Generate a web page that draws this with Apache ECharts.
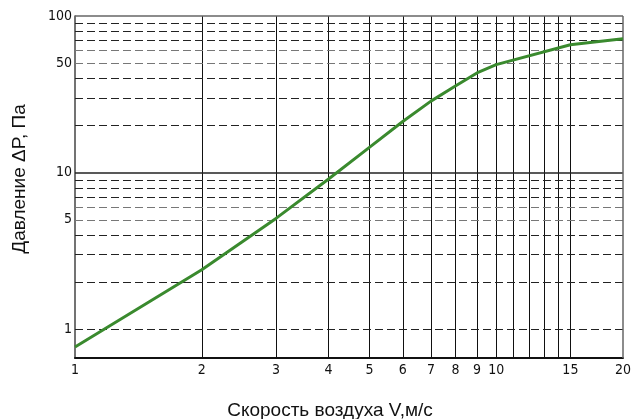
<!DOCTYPE html>
<html>
<head>
<meta charset="utf-8">
<script src="https://cdn.jsdelivr.net/npm/echarts@6/dist/echarts.min.js"></script>
<style>
    html, body { margin: 0; padding: 0; background: #fff; }
    #chart { width: 633px; height: 419px; }
</style>
</head>
<body>
<div id="chart"></div>
<script>
    // скорость воздуха, м/с
    var speedV = [1, 2, 3, 4, 5, 6, 7, 8, 9, 10, 15, 20];
    // давление, Па
    var pressure = [0.77, 2.4, 5.1, 9.1, 14.5, 21.2, 28.6, 35.7, 43.3, 48.9, 65.5, 71.5];

    // сетка
    var xGridLines = [2, 3, 4, 5, 6, 7, 8, 9, 10, 11, 12, 13, 14, 15];
    var xTickLabels = [1, 2, 3, 4, 5, 6, 7, 8, 9, 10, 15, 20];
    var yDashedLines = [90, 80, 70, 60, 50, 40, 30, 20, 9, 8, 7, 6, 5, 4, 3, 2, 1];
    var yGreyLines = [60, 50, 6, 5];
    var ySolidLines = [10, 100];
    var yTickLabels = [1, 5, 10, 50, 100];

    // маленький помощник вместо jQuery
    function extend(a, b){ for(var key in b){ a[key] = b[key]; } return a; }

    var labelFont = {
        color: '#111',
        fontSize: 14,
        fontFamily: '"DejaVu Sans Condensed", "Liberation Sans Narrow", sans-serif'
    };

    //вертикальные линии + подписи оси X
    function buildXMarks(){
        var arr = [];
        for(var i=0; i<xGridLines.length; i++){
            arr.push({
                xAxis: xGridLines[i],
                lineStyle: {color: '#111', width: 1, type: 'solid'},
                label: {show: false}
            });
        }
        for(var j=0; j<xTickLabels.length; j++){
            arr.push({
                xAxis: xTickLabels[j],
                lineStyle: {color: 'transparent', width: 0},
                label: extend({
                    show: true, position: 'start', distance: 5,
                    formatter: String(xTickLabels[j])
                }, labelFont)
            });
        }
        return arr;
    }

    //горизонтальные линии + подписи оси Y
    function buildYMarks(){
        var arr = [];
        for(var i=0; i<yDashedLines.length; i++){
            var v = yDashedLines[i];
            var grey = yGreyLines.indexOf(v) > -1;
            arr.push({
                yAxis: v,
                lineStyle: {color: grey ? '#777' : '#222', width: 1, type: [8, 4]},
                label: {show: false}
            });
        }
        for(var k=0; k<ySolidLines.length; k++){
            arr.push({
                yAxis: ySolidLines[k],
                lineStyle: {color: ySolidLines[k] == 100 ? '#666' : '#222', width: 1.5, type: 'solid'},
                label: {show: false}
            });
        }
        for(var j=0; j<yTickLabels.length; j++){
            arr.push({
                yAxis: yTickLabels[j],
                lineStyle: {color: 'transparent', width: 0},
                label: extend({
                    show: true, position: 'start', distance: 3,
                    formatter: String(yTickLabels[j])
                }, labelFont)
            });
        }
        return arr;
    }

    var chart = echarts.init(document.getElementById('chart'));
    var option = {
        animation: false,
        backgroundColor: '#fff',
        grid: { left: 75, right: 10, top: 16, bottom: 61, outerBoundsMode: 'none', containLabel: false },
        xAxis: {
            type: 'log',
            logBase: 10,
            min: 1,
            max: 20,
            name: 'Скорость воздуха V,м/с',
            nameLocation: 'middle',
            nameGap: 43,
            nameTextStyle: { color: '#111', fontSize: 19, fontFamily: '"Liberation Sans", Arial, sans-serif', padding: [0, 38, 0, 0] },
            axisLine: { show: true, lineStyle: { color: '#111', width: 2 } },
            axisTick: { show: false },
            axisLabel: { show: false },
            splitLine: { show: false }
        },
        yAxis: {
            type: 'log',
            logBase: 10,
            min: 0.655,
            max: 100,
            name: 'Давление ΔP, Па',
            nameLocation: 'middle',
            nameGap: 46,
            nameTextStyle: { color: '#111', fontSize: 19, fontFamily: '"Liberation Sans", Arial, sans-serif', padding: [0, 0, 0, 16] },
            axisLine: { show: true, lineStyle: { color: '#444', width: 1.5 } },
            axisTick: { show: false },
            axisLabel: { show: false },
            splitLine: { show: false }
        },
        series: [{
            name: 'gridX',
            type: 'line',
            data: [],
            z: 1,
            silent: true,
            markLine: { silent: true, symbol: ['none', 'none'], animation: false, data: buildXMarks() }
        },{
            name: 'gridY',
            type: 'line',
            data: [],
            z: 1,
            silent: true,
            markLine: { silent: true, symbol: ['none', 'none'], animation: false, data: buildYMarks() }
        },{
            name: 'ΔP',
            type: 'line',
            z: 5,
            symbol: 'none',
            lineStyle: { color: '#3a8a2e', width: 3 },
            data: speedV.map(function(v, i){ return [v, pressure[i]]; })
        },{
            name: 'border',
            type: 'line',
            data: [],
            z: 2,
            silent: true,
            markLine: { silent: true, symbol: ['none', 'none'], animation: false,
                data: [{ xAxis: 20, lineStyle: {color: '#666', width: 1.5, type: 'solid'}, label: {show: false} }] }
        }]
    };
    chart.setOption(option);
</script>
</body>
</html>
